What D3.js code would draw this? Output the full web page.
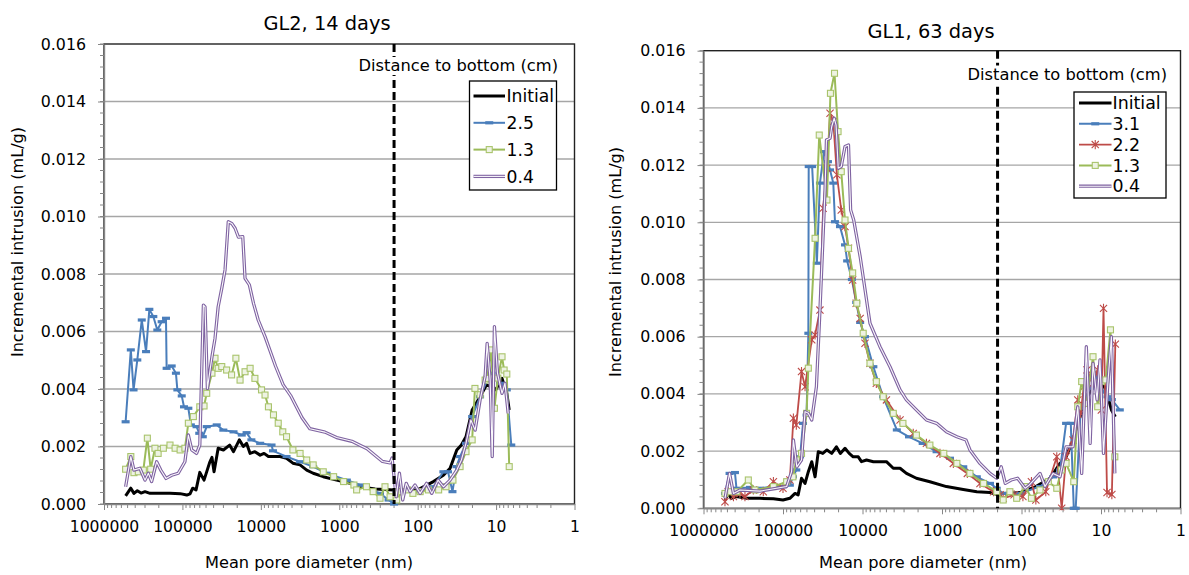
<!DOCTYPE html>
<html>
<head>
<meta charset="utf-8">
<script src="https://cdn.jsdelivr.net/npm/d3@7"></script>
<style>
  body { margin: 0; background: #fff; }
  svg { display: block; font-family: "DejaVu Sans", Verdana, sans-serif; }
</style>
</head>
<body>
<svg id="chart" width="1189" height="575"></svg>
<script>
// ---- data: [mean pore diameter (nm), incremental intrusion (mL/g)] ----
const gl2Initial = [[530000,0.00028],[455000,0.00055],[415000,0.00037],[376000,0.00046],[337000,0.00038],[300000,0.00043],[259000,0.00037],[193000,0.00037],[144000,0.00037],[107000,0.00036],[88000,0.00031],[80000,0.00035],[74000,0.00055],[67000,0.00049],[60000,0.0011],[53000,0.00083],[45000,0.00144],[42000,0.00162],[39500,0.00112],[35000,0.00194],[30000,0.00188],[25000,0.00205],[22300,0.00182],[18800,0.00223],[16700,0.002],[15200,0.00211],[13700,0.00176],[11900,0.00182],[10200,0.0017],[9100,0.00176],[8000,0.00165],[5700,0.00165],[4700,0.00159],[3900,0.00142],[3160,0.00136],[2600,0.00118],[2150,0.00107],[1600,0.00095],[1080,0.00083],[728,0.00072],[543,0.0006],[349,0.00052],[200,0.00049],[100,0.00049],[63,0.00078],[47,0.001],[38.6,0.00124],[31.7,0.00188],[27.7,0.00205],[24.2,0.00234],[20.2,0.00327],[16,0.00373],[13.3,0.00414],[11.6,0.00408],[10.1,0.00397],[8.4,0.00437],[7.3,0.00385],[6.8,0.00327]];

const gl2Dist25 = [[530000,0.00286],[455000,0.00536],[420000,0.00397],[376000,0.00501],[330000,0.0064],[291000,0.0053],[264000,0.00677],[235000,0.00652],[209000,0.00605],[184000,0.00634],[162000,0.00646],[159000,0.00472],[137000,0.0048],[121000,0.00455],[116000,0.00397],[102000,0.00376],[95500,0.00338],[84000,0.00333],[78000,0.00275],[66000,0.00269],[61000,0.00246],[55000,0.00234],[49000,0.00269],[36500,0.00275],[30100,0.00257],[22300,0.00251],[17500,0.0024],[15200,0.00248],[13200,0.00223],[10200,0.00211],[7300,0.00205],[7000,0.00185],[4700,0.00165],[3160,0.00147],[2150,0.0013],[1450,0.00107],[800,0.00083],[543,0.00066],[302,0.00037],[235,0.00014],[200,0],[185,0.00043],[100,0.00043],[63,0.0006],[47,0.00112],[41,0.00112],[36,0.00043],[32,0.0013],[28.8,0.00165],[24.2,0.00211],[20.2,0.00304],[16,0.00373],[13,0.00431],[11.4,0.00455],[8.9,0.0042],[7.3,0.00397],[6.4,0.00205]];

const gl2Dist13 = [[530000,0.00121],[455000,0.00165],[415000,0.00109],[365000,0.00112],[315000,0.00118],[280000,0.00229],[254000,0.00121],[224000,0.00194],[204000,0.00176],[175000,0.00194],[144000,0.00205],[124000,0.00194],[107000,0.00188],[93000,0.00194],[84000,0.00281],[72500,0.00304],[60000,0.00338],[53000,0.00341],[49000,0.00385],[42000,0.00455],[38400,0.00507],[35000,0.00472],[31500,0.00478],[27300,0.00466],[23600,0.00449],[20800,0.00507],[18400,0.00431],[15900,0.0046],[13700,0.00472],[11900,0.00437],[9800,0.00397],[8840,0.00379],[8000,0.00338],[6900,0.0031],[6000,0.00281],[5250,0.00251],[4700,0.00234],[3900,0.00188],[3160,0.00176],[2600,0.00153],[2150,0.00136],[1600,0.00112],[1180,0.00095],[880,0.00078],[650,0.00066],[600,0.00049],[450,0.0006],[370,0.00043],[302,0.0002],[261,0.0006],[225,0.00025],[185,0.00014],[160,0.00043],[135,0.00049],[115,0.00037],[93,0.00043],[73,0.00049],[54,0.00049],[43.5,0.0006],[35.5,0.00083],[28.8,0.0013],[24.2,0.00182],[20.2,0.00223],[18.6,0.00402],[16,0.0038],[13.8,0.00431],[13,0.00437],[11.6,0.00536],[10.5,0.00333],[9.5,0.00438],[8.4,0.00512],[7.9,0.00466],[7.3,0.00452],[6.8,0.0013]];

const gl2Dist04 = [[530000,0.0006],[455000,0.00165],[415000,0.00118],[348000,0.00124],[300000,0.00083],[272000,0.00107],[247000,0.00078],[213000,0.00147],[189000,0.00118],[162000,0.00089],[137000,0.001],[113000,0.00107],[93000,0.00147],[84000,0.0024],[76000,0.00188],[66000,0.00176],[60000,0.00205],[54000,0.00692],[51500,0.00686],[48000,0.00402],[42000,0.00512],[38400,0.00576],[35000,0.00686],[31500,0.0075],[28600,0.00814],[26000,0.00982],[23500,0.00976],[21300,0.00959],[19300,0.00928],[17000,0.0093],[15900,0.00785],[14000,0.00762],[12400,0.00698],[10800,0.0064],[8840,0.00582],[6500,0.0048],[5200,0.00415],[4170,0.00377],[2980,0.003],[2370,0.00262],[1520,0.0025],[1080,0.00231],[690,0.00218],[442,0.00192],[281,0.00148],[225,0.00143],[212,0.0016],[188,0.00025],[171,0.00107],[155,0.00014],[140,0.00072],[125,0.00043],[108,0.00066],[93,0.00037],[77,0.00072],[66,0.00037],[55,0.00083],[47,0.0006],[38.6,0.00083],[31.7,0.00118],[27.7,0.00153],[24.2,0.00211],[21,0.00292],[18.5,0.00257],[16,0.00362],[13.8,0.00443],[13,0.00559],[11.9,0.00431],[11.2,0.00165],[10.5,0.00617],[9.6,0.00455],[8.4,0.00385],[7.7,0.0042],[7,0.00315]];

const gl1Initial = [[537000,0.00029],[490000,0.00052],[450000,0.00035],[385000,0.00041],[286000,0.00035],[195000,0.00035],[132000,0.00033],[100000,0.00029],[82000,0.00035],[70600,0.00052],[64500,0.00047],[58500,0.00105],[52800,0.00087],[48000,0.00128],[43500,0.00163],[39500,0.0011],[36000,0.00198],[31600,0.00192],[28000,0.00204],[24400,0.00192],[21300,0.00215],[19000,0.00192],[16600,0.0021],[14700,0.00192],[13100,0.0018],[11300,0.0018],[10300,0.00163],[8900,0.00169],[7300,0.00163],[5000,0.00163],[4100,0.0014],[3370,0.0014],[2800,0.00122],[2100,0.00105],[1420,0.00093],[880,0.00076],[540,0.00066],[365,0.00058],[249,0.00055],[195,0.00047],[170,0.00052],[104,0.00055],[66,0.00076],[43.8,0.00105],[32.8,0.00157],[27.5,0.0018],[22.5,0.00239],[19.6,0.00297],[15.3,0.00379],[12.6,0.00431],[9.4,0.00437],[8.2,0.0039],[7.4,0.00344],[6.6,0.0032]];

const gl1Dist31 = [[537000,0.00052],[470000,0.00122],[402000,0.00125],[385000,0.0007],[260000,0.00073],[195000,0.0007],[132000,0.00076],[100000,0.00076],[82000,0.00081],[75000,0.0011],[68000,0.00134],[61000,0.0018],[56000,0.00297],[50500,0.00326],[48000,0.00612],[47500,0.01195],[43000,0.01195],[37500,0.00857],[34300,0.01137],[30500,0.01247],[27200,0.01212],[25600,0.01183],[23300,0.01137],[22200,0.01002],[19200,0.00985],[16600,0.00921],[15600,0.00865],[13600,0.008],[12000,0.0072],[10700,0.0065],[9300,0.006],[7300,0.00495],[5500,0.0039],[3700,0.00274],[2600,0.0025],[1750,0.00227],[1170,0.00198],[793,0.00175],[540,0.00145],[365,0.0011],[249,0.00087],[205,0.0007],[170,0.00052],[104,0.00052],[58.5,0.00076],[40,0.0011],[32.8,0.00134],[27.5,0.00297],[24,0.00297],[22,0],[20.8,0],[18,0.0035],[13.7,0.0042],[11.4,0.0046],[9.5,0.0041],[8.3,0.0039],[7.3,0.0038],[5.8,0.00344]];

const gl1Dist22 = [[537000,0.00023],[490000,0.00058],[420000,0.00041],[348000,0.00052],[301000,0.00041],[236000,0.00064],[177000,0.00058],[132000,0.00093],[100000,0.0007],[82000,0.00099],[74000,0.00315],[68000,0.00291],[58500,0.00478],[52800,0.00425],[43500,0.00589],[39500,0.00606],[34300,0.00693],[31300,0.01049],[28000,0.01189],[25600,0.01381],[23300,0.01352],[21000,0.01166],[18500,0.01043],[16600,0.00985],[15000,0.00909],[13300,0.00798],[12000,0.00717],[10700,0.00664],[9300,0.00577],[8050,0.00507],[6700,0.00437],[5000,0.00379],[3370,0.00309],[2300,0.00262],[1570,0.00227],[1060,0.00192],[720,0.00157],[480,0.00122],[333,0.00087],[225,0.00058],[186,0.00047],[170,0.00035],[124,0.00047],[96,0.00041],[75,0.00093],[66,0.00029],[49.5,0.00058],[36,0.0018],[31.2,0],[27.5,0.0018],[22.5,0.00239],[19.6,0.00379],[18,0.00332],[16.5,0.00425],[15,0.00484],[12.6,0.00437],[11,0.00484],[9.9,0.00344],[9.3,0.00699],[8.4,0.00055],[7.3,0.00048],[6.6,0.00574]];

const gl1Dist13 = [[537000,0.00052],[455000,0.00058],[380000,0.00058],[273000,0.00099],[225000,0.00064],[132000,0.00076],[90000,0.00093],[75000,0.0011],[68000,0.00169],[58500,0.00192],[50500,0.00332],[48000,0.0049],[39500,0.00944],[35000,0.01305],[28000,0.01078],[25300,0.01451],[22500,0.01521],[20300,0.01317],[18500,0.01177],[16600,0.01008],[15000,0.00909],[13300,0.00823],[11800,0.00717],[9800,0.00612],[8050,0.00507],[6700,0.00443],[5500,0.0039],[4100,0.00332],[3100,0.00297],[2100,0.00256],[1420,0.00221],[950,0.00192],[650,0.00157],[445,0.00122],[300,0.00087],[205,0.00058],[170,0.00029],[140,0.00058],[115,0.00035],[90,0.00076],[75,0.00035],[58.5,0.00064],[46,0.00093],[36,0.0007],[31.5,0.00134],[27.5,0.00157],[22,0.00093],[19.6,0.00355],[17.5,0.00443],[15.3,0.00367],[12.6,0.0053],[11,0.00355],[9.9,0.00443],[8.7,0.00449],[7.6,0.00624],[6.7,0.0018]];

const gl1Dist04 = [[537000,0.00035],[470000,0.00122],[420000,0.00052],[348000,0.00064],[195000,0.0006],[90000,0.00076],[78000,0.00128],[74000,0.00239],[67000,0.00145],[58500,0.00169],[52800,0.00338],[48000,0.00332],[43500,0.00309],[38000,0.00425],[34300,0.00693],[29600,0.01113],[28400,0.01288],[25600,0.01294],[24400,0.01334],[22700,0.01364],[21500,0.0134],[20200,0.01189],[18500,0.01195],[16600,0.01265],[15000,0.0127],[14100,0.01043],[12900,0.01008],[10700,0.0088],[8050,0.00647],[6030,0.00565],[4510,0.00495],[3370,0.00414],[2800,0.00379],[2100,0.00344],[1570,0.00309],[1170,0.00297],[880,0.00268],[650,0.0025],[500,0.00239],[445,0.00204],[333,0.00157],[249,0.00122],[205,0.00105],[180,0.00145],[160,0.00087],[135,0.00099],[112,0.00105],[90,0.0007],[80,0.00081],[58.5,0.00122],[50.6,0.00076],[40,0.00122],[32.8,0.0011],[27.5,0.00215],[22.5,0.00215],[19.6,0.00355],[17.5,0.00122],[15.3,0.00565],[13.7,0.00227],[12.6,0.00507],[11.2,0.00379],[10.3,0.00519],[9.3,0.00192],[8.2,0.00437],[7.4,0.006],[6.7,0.00122]];

const gl2Labels = ["Initial", "2.5", "1.3", "0.4"];
const gl1Labels = ["Initial", "3.1", "2.2", "1.3", "0.4"];
const yTicks = [0, 0.002, 0.004, 0.006, 0.008, 0.010, 0.012, 0.014, 0.016];
const xTicks = [1000000, 100000, 10000, 1000, 100, 10, 1];
const bottomDistance = 200; // dashed marker, nm

// ---- styles ----
const STYLE = {
  initial: { color: "#000000", width: 3, marker: null },
  blue:    { color: "#4a7ebb", width: 2, marker: "dash" },
  red:     { color: "#be4b48", width: 1.8, marker: "star" },
  green:   { color: "#9bbb59", width: 2, marker: "square" },
  purple:  { color: "#7f63a1", width: 3.3, marker: null, double: true },
};
const AXIS = "#868686";
const GRID = "#a6a6a6";

const svg = d3.select("#chart");

const panels = [
  {
    id: "gl2", title: "GL2, 14 days", left: 104, right: 574.5, top: 44, bottom: 504,
    titleX: 327, titleY: 29.5, yLabelX: 23, yLabelY: 242, xLabelX: 309,
    noteEnd: 558, noteY: 71,
    legend: { x0: 469.5, y0: 81, x1: 556.5, y1: 190, rowY: 96, step: 26.8, lx0: 473.5, lx1: 505, tx: 506.5, fs: 17.2 },
    series: [
      { data: gl2Initial, style: STYLE.initial },
      { data: gl2Dist25, style: STYLE.blue },
      { data: gl2Dist13, style: STYLE.green },
      { data: gl2Dist04, style: STYLE.purple },
    ],
    labels: gl2Labels,
  },
  {
    id: "gl1", title: "GL1, 63 days", left: 703.5, right: 1180.5, top: 50.7, bottom: 508.3,
    titleX: 931, titleY: 37.5, yLabelX: 621, yLabelY: 262, xLabelX: 923,
    noteEnd: 1167, noteY: 79.5,
    legend: { x0: 1074, y0: 92, x1: 1166, y1: 198, rowY: 103, step: 20.8, lx0: 1079, lx1: 1111.5, tx: 1112.5, fs: 17.4 },
    series: [
      { data: gl1Initial, style: STYLE.initial },
      { data: gl1Dist31, style: STYLE.blue },
      { data: gl1Dist22, style: STYLE.red },
      { data: gl1Dist13, style: STYLE.green },
      { data: gl1Dist04, style: STYLE.purple },
    ],
    labels: gl1Labels,
  },
];

function drawMarker(g, kind, color, cx, cy) {
  if (kind === "dash") {
    g.append("rect").attr("x", cx - 4).attr("y", cy - 1.6).attr("width", 8).attr("height", 3.2).attr("fill", color);
  } else if (kind === "square") {
    g.append("rect").attr("x", cx - 3).attr("y", cy - 3).attr("width", 6).attr("height", 6)
      .attr("fill", "#eef3e3").attr("stroke", "#a9c46c").attr("stroke-width", 1.1);
  } else if (kind === "star") {
    g.append("path").attr("transform", `translate(${cx},${cy})`)
      .attr("d", "M-3.6,-3.6L3.6,3.6M-3.6,3.6L3.6,-3.6M0,-4.6L0,4.6")
      .attr("stroke", color).attr("stroke-width", 1.1).attr("fill", "none");
  }
}

// purple series is a "double" line: dark outer stroke with a pale core
function drawSeriesPath(g, pathD, st) {
  g.append("path").attr("d", pathD).attr("fill", "none").attr("stroke", st.color)
    .attr("stroke-width", st.width).attr("stroke-linejoin", "round");
  if (st.double) {
    g.append("path").attr("d", pathD).attr("fill", "none").attr("stroke", "#faf8fc")
      .attr("stroke-width", 1.1).attr("stroke-linejoin", "round");
  }
}

panels.forEach(p => {
  const x = d3.scaleLog().domain([1e6, 1]).range([p.left, p.right]);
  const y = d3.scaleLinear().domain([0, 0.016]).range([p.bottom, p.top]);
  const g = svg.append("g");

  // horizontal gridlines
  g.selectAll(".grid").data(yTicks.slice(1, -1)).join("line")
    .attr("x1", p.left).attr("x2", p.right)
    .attr("y1", d => y(d)).attr("y2", d => y(d))
    .attr("stroke", GRID).attr("stroke-width", 1.3);

  // plot frame
  g.append("rect")
    .attr("x", p.left).attr("y", p.top)
    .attr("width", p.right - p.left).attr("height", p.bottom - p.top)
    .attr("fill", "none").attr("stroke", "#222").attr("stroke-width", 1.4);

  // y axis, major + minor ticks
  g.append("g")
    .attr("transform", `translate(${p.left},0)`)
    .call(d3.axisLeft(y).tickValues(yTicks).tickFormat(d3.format(".3f")).tickSize(6).tickSizeOuter(0).tickPadding(12))
    .call(a => a.select(".domain").attr("stroke", AXIS).attr("stroke-width", 1.4))
    .call(a => a.selectAll(".tick line").attr("stroke", AXIS))
    .call(a => a.selectAll(".tick text").attr("fill", "#000").attr("font-size", 15.8).attr("font-family", "DejaVu Sans"));

  const yMinor = d3.range(0, 41).map(i => i * 0.0004);
  g.selectAll(".ymin").data(yMinor).join("line")
    .attr("x1", p.left - 4).attr("x2", p.left)
    .attr("y1", d => y(d)).attr("y2", d => y(d))
    .attr("stroke", AXIS).attr("stroke-width", 1);

  // x axis, log decades + minor ticks
  g.append("g")
    .attr("transform", `translate(0,${p.bottom})`)
    .call(d3.axisBottom(x).tickValues(xTicks).tickFormat(d3.format("d")).tickSize(6).tickSizeOuter(0).tickPadding(11))
    .call(a => a.select(".domain").attr("stroke", AXIS).attr("stroke-width", 1.4))
    .call(a => a.selectAll(".tick line").attr("stroke", AXIS))
    .call(a => a.selectAll(".tick text").attr("fill", "#000").attr("font-size", 15.6).attr("font-family", "DejaVu Sans"));

  const xMinor = [];
  for (let e = 0; e < 6; e++) for (let k = 2; k <= 9; k++) xMinor.push(k * Math.pow(10, e));
  g.selectAll(".xmin").data(xMinor).join("line")
    .attr("x1", d => x(d)).attr("x2", d => x(d))
    .attr("y1", p.bottom).attr("y2", p.bottom + 4)
    .attr("stroke", AXIS).attr("stroke-width", 1);

  // data
  const clipId = `clip-${p.id}`;
  svg.append("defs").append("clipPath").attr("id", clipId)
    .append("rect").attr("x", p.left).attr("y", p.top - 6)
    .attr("width", p.right - p.left).attr("height", p.bottom - p.top + 8);

  const line = d3.line().x(d => x(d[0])).y(d => y(d[1]));
  const dataG = g.append("g").attr("clip-path", `url(#${clipId})`);
  p.series.forEach(s => {
    drawSeriesPath(dataG, line(s.data), s.style);
    if (s.style.marker) {
      s.data.forEach(d => drawMarker(dataG, s.style.marker, s.style.color, x(d[0]), y(d[1])));
    }
  });

  // dashed line at distance marker
  g.append("line")
    .attr("x1", x(bottomDistance)).attr("x2", x(bottomDistance))
    .attr("y1", p.top).attr("y2", p.bottom)
    .attr("stroke", "#000").attr("stroke-width", 3).attr("stroke-dasharray", "8,4");

  // "Distance to bottom" note with white box
  const note = g.append("text")
    .attr("x", p.noteEnd).attr("y", p.noteY)
    .attr("text-anchor", "end").attr("font-size", 16.3).attr("fill", "#000")
    .text("Distance to bottom (cm)");
  const bb = note.node().getBBox();
  g.insert("rect", () => note.node())
    .attr("x", bb.x - 2).attr("y", bb.y + 1).attr("width", bb.width + 4).attr("height", bb.height - 1)
    .attr("fill", "#fff");

  // legend
  const L = p.legend;
  g.append("rect")
    .attr("x", L.x0).attr("y", L.y0).attr("width", L.x1 - L.x0).attr("height", L.y1 - L.y0)
    .attr("fill", "#fff").attr("stroke", "#000").attr("stroke-width", 1.3);
  p.series.forEach((s, i) => {
    const cy = L.rowY + i * L.step;
    const lg = g.append("g");
    drawSeriesPath(lg, `M${L.lx0},${cy}L${L.lx1},${cy}`, s.style);
    if (s.style.marker) drawMarker(lg, s.style.marker, s.style.color, (L.lx0 + L.lx1) / 2, cy);
    lg.append("text")
      .attr("x", L.tx).attr("y", cy).attr("dy", "0.36em")
      .attr("font-size", L.fs).attr("fill", "#000")
      .text(p.labels[i]);
  });

  // titles
  g.append("text")
    .attr("x", p.titleX).attr("y", p.titleY)
    .attr("text-anchor", "middle").attr("font-size", 19.4).attr("fill", "#000")
    .text(p.title);

  g.append("text")
    .attr("transform", `translate(${p.yLabelX},${p.yLabelY}) rotate(-90)`)
    .attr("text-anchor", "middle").attr("font-size", 16.1).attr("fill", "#000")
    .text("Incremental intrusion (mL/g)");

  g.append("text")
    .attr("x", p.xLabelX).attr("y", 568)
    .attr("text-anchor", "middle").attr("font-size", 16.2).attr("fill", "#000")
    .text("Mean pore diameter (nm)");
});
</script>
</body>
</html>
